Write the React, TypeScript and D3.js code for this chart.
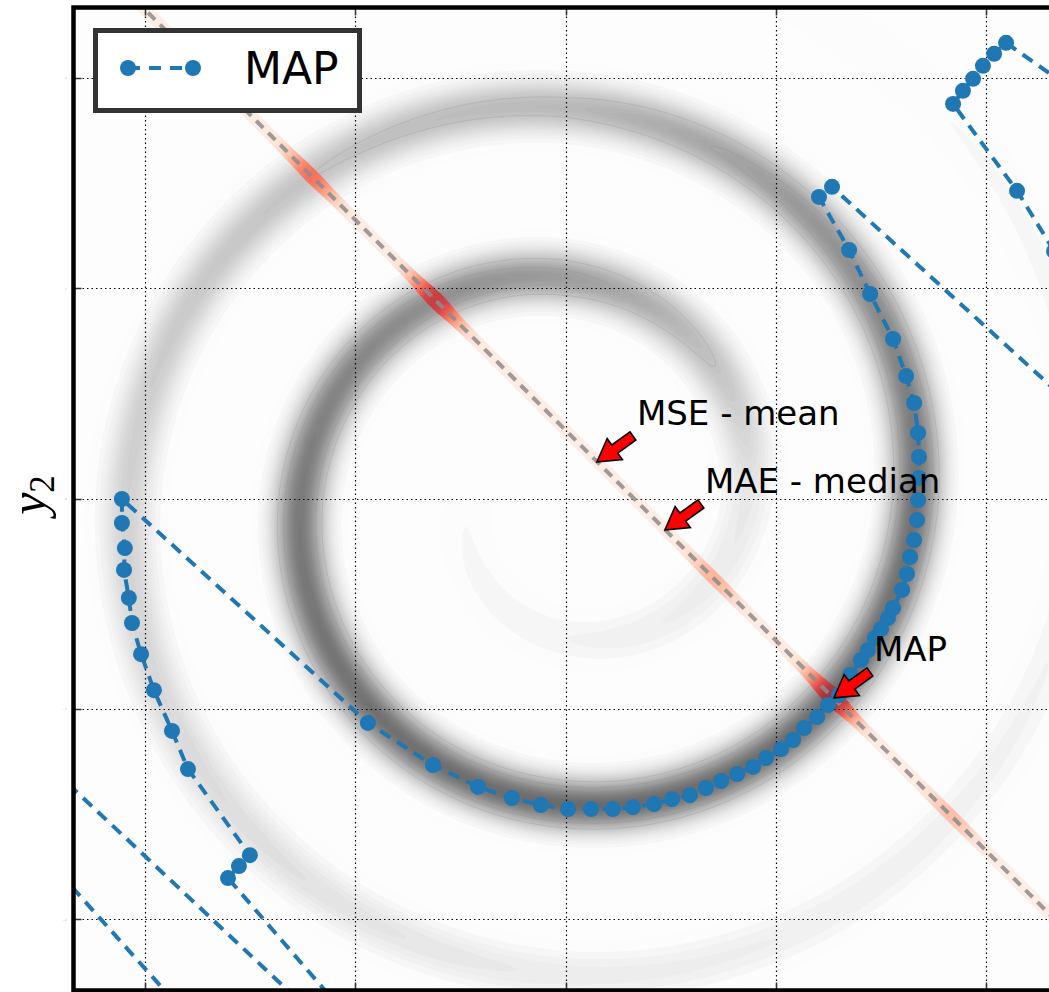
import React, { useMemo } from 'react';
import * as d3 from 'd3';

const WIDTH = 1049;
const HEIGHT = 992;
const frame = { left: 73.5, top: 7.5, width: 985, height: 983 };

const ticks = [-2, -1, 0, 1, 2];
const tickLabels = ['−2', '−1', '0', '1', '2'];
const xDomain = [-2.34, 2.34];
const yDomain = [-2.335, 2.335];

// spiral ridge: angle (rad, ccw from +x), radius, darkness
const ridgeAngle = [-9.42, -7.85, -6.28, -4.71, -3.14, -1.57, 0, 1.57, 3.14, 4.71, 6.28, 7.85];
const ridgeRadius = [0.46, 0.66, 0.86, 1.05, 1.26, 1.45, 1.66, 1.86, 2.08, 2.26, 2.46, 2.66];
const ridgeWeight = [0.03, 0.06, 0.12, 0.62, 0.88, 1.0, 0.95, 0.42, 0.26, 0.1, 0.05, 0.02];
const ridgeWidth = 0.078;

// observation line  y1 + y2 = c
const lineOffset = 0.325;

// MAP estimates, in order (first / last few sit outside the axes)
const mapX = [
  -1.739, -2.547, -2.547, -1.121, -0.974,
  -1.606, -1.554, -1.502, -1.796, -1.872, -1.958, -2.019, -2.062, -2.077, -2.1, -2.096, -2.11, -2.11,
  -0.941, -0.632, -0.418, -0.257, -0.119, 0.01, 0.119, 0.223, 0.318, 0.418, 0.504, 0.589, 0.665,
  0.737, 0.813, 0.889, 0.95, 1.022, 1.079, 1.131, 1.193, 1.245, 1.297,
  1.35, 1.402, 1.435, 1.468, 1.497, 1.53, 1.554, 1.597, 1.62, 1.635, 1.654, 1.668, 1.673, 1.677,
  1.677, 1.673, 1.654, 1.616, 1.554, 1.445, 1.345, 1.202, 1.264,
  2.585, 2.319, 2.143, 1.839, 1.886, 1.934, 1.981, 2.034, 2.091, 2.585,
];
const mapY = [
  -2.523, -1.62, -1.183, -2.523, -2.533,
  -1.801, -1.744, -1.692, -1.283, -1.102, -0.908, -0.737, -0.589, -0.47, -0.337, -0.233, -0.114, 0,
  -1.064, -1.264, -1.368, -1.421, -1.454, -1.473, -1.473, -1.473, -1.464, -1.449, -1.426, -1.407, -1.373,
  -1.34, -1.307, -1.273, -1.231, -1.188, -1.145, -1.088, -1.036, -0.979, -0.931,
  -0.836, -0.765, -0.718, -0.66, -0.618, -0.565, -0.518, -0.432, -0.356, -0.276, -0.195, -0.1, -0.005, 0.1,
  0.2, 0.314, 0.456, 0.584, 0.76, 0.974, 1.183, 1.435, 1.483,
  0.28, 1.178, 1.464, 1.877, 1.939, 1.996, 2.058, 2.115, 2.167, 1.82,
];

const estimatorLabels = ['MSE - mean', 'MAE - median', 'MAP'];
const estimatorX = [0.147, 0.47, 1.273];
const estimatorY = [0.176, -0.147, -0.945];

const BLUE = '#1f77b4';

const x = d3.scaleLinear().domain(xDomain).range([frame.left, frame.left + frame.width]);
const y = d3.scaleLinear().domain(yDomain).range([frame.top + frame.height, frame.top]);
const snap = (v: number) => Math.round(v - 0.5) + 0.5;

const radiusAt = d3.scaleLinear().domain(ridgeAngle).range(ridgeRadius);
const weightAt = d3.scaleLinear().domain(ridgeAngle).range(ridgeWeight);
const thetaMin = ridgeAngle[0];
const thetaMax = ridgeAngle[ridgeAngle.length - 1];

function density(px: number, py: number) {
  const r = Math.hypot(px, py);
  const phi = Math.atan2(py, px);
  let s = 0;
  for (let k = -2; k <= 2; k++) {
    const th = phi + 2 * Math.PI * k;
    if (th < thetaMin || th > thetaMax) continue;
    const d = r - radiusAt(th);
    s += weightAt(th) * Math.exp((-d * d) / (2 * ridgeWidth * ridgeWidth));
  }
  return s;
}

const grey = (t: number) => {
  const g = Math.round(255 - 150 * Math.pow(Math.min(t, 1), 0.85));
  return `rgb(${g},${g},${g})`;
};
const red = (v: number) =>
  d3.interpolateRgb('#ffffff', d3.interpolateReds(0.07 + 0.88 * Math.pow(Math.min(v, 1), 0.55)))(0.82);

// fancy annotation arrow, tip at (tx, ty), tail towards (dx, dy)
function arrowPath(tx: number, ty: number, dx: number, dy: number) {
  const L = Math.hypot(dx, dy);
  const ux = dx / L, uy = dy / L;
  const nx = -uy, ny = ux;
  const hl = 22, hw = 13, sw = 5;
  const bx = tx + ux * hl, by = ty + uy * hl;
  const ex = tx + ux * L, ey = ty + uy * L;
  const pts = [
    [tx, ty],
    [bx + nx * hw, by + ny * hw],
    [bx + nx * sw, by + ny * sw],
    [ex + nx * sw, ey + ny * sw],
    [ex - nx * sw, ey - ny * sw],
    [bx - nx * sw, by - ny * sw],
    [bx - nx * hw, by - ny * hw],
  ];
  return 'M' + pts.map((p) => p.join(',')).join('L') + 'Z';
}

export default function App() {
  const { bands, lines } = useMemo(() => {
    const cell = 3;
    const nx = Math.ceil(frame.width / cell);
    const ny = Math.ceil(frame.height / cell);
    const values = new Float64Array(nx * ny);
    for (let j = 0; j < ny; j++) {
      const dy = y.invert(frame.top + (j + 0.5) * cell);
      for (let i = 0; i < nx; i++) {
        const dx = x.invert(frame.left + (i + 0.5) * cell);
        values[j * nx + i] = density(dx, dy);
      }
    }
    const path = d3.geoPath(d3.geoIdentity().scale(cell).translate([frame.left, frame.top]) as any);
    const levels = d3.range(0.01, 1.1, 0.025);
    const gen = d3.contours().size([nx, ny]);
    const arr = Array.from(values);
    const bands = gen.thresholds(levels)(arr).map((c) => ({
      d: path(c) || '',
      fill: grey(c.value),
    }));
    const lines = gen.thresholds([0.35, 0.55, 0.75])(arr).map((c) => path(c) || '');
    return { bands, lines };
  }, []);

  // red posterior band along the observation line
  const step = 0.008;
  const along = d3.range(-2.5, 2.5, step);
  const redSegs = along.map((t) => {
    const v = density(t, lineOffset - t);
    return {
      x1: x(t - step * 0.6), y1: y(lineOffset - t + step * 0.6),
      x2: x(t + step * 0.6), y2: y(lineOffset - t - step * 0.6),
      color: red(v), w: 12 + 6 * Math.min(v, 1),
    };
  });

  const mapLine = d3.line<number>().x((i) => x(mapX[i])).y((i) => y(mapY[i]))(d3.range(mapX.length)) || '';

  return (
    <svg width={WIDTH} height={HEIGHT} style={{ position: 'absolute', left: 0, top: 0, background: '#fff' }}
      fontFamily="DejaVu Sans, sans-serif">
      <defs>
        <clipPath id="plot">
          <rect x={frame.left} y={frame.top} width={frame.width} height={frame.height} />
        </clipPath>
      </defs>

      <g clipPath="url(#plot)">
        <rect x={frame.left} y={frame.top} width={frame.width} height={frame.height} fill="#fdfdfd" />
        {bands.map((b, i) => <path key={i} d={b.d} fill={b.fill} />)}
        {lines.map((d, i) => <path key={i} d={d} fill="none" stroke="#8a8a8a" strokeWidth={0.6} strokeOpacity={0.45} />)}

        {redSegs.map((s, i) => (
          <line key={i} x1={s.x1} y1={s.y1} x2={s.x2} y2={s.y2} stroke={s.color} strokeWidth={s.w} />
        ))}

        {/* grid */}
        {ticks.map((t) => (
          <g key={t}>
            <line x1={snap(x(t))} x2={snap(x(t))} y1={frame.top} y2={frame.top + frame.height}
              stroke="#000" strokeWidth={1.2} strokeDasharray="1.5,3" />
            <line y1={snap(y(t))} y2={snap(y(t))} x1={frame.left} x2={frame.left + frame.width}
              stroke="#000" strokeWidth={1.2} strokeDasharray="1.5,3" />
            <line x1={snap(x(t))} x2={snap(x(t))} y1={frame.top + frame.height} y2={frame.top + frame.height - 8} stroke="#333" strokeWidth={1.5} />
            <line x1={snap(x(t))} x2={snap(x(t))} y1={frame.top} y2={frame.top + 8} stroke="#333" strokeWidth={1.5} />
            <line y1={snap(y(t))} y2={snap(y(t))} x1={frame.left} x2={frame.left + 8} stroke="#333" strokeWidth={1.5} />
          </g>
        ))}

        <line x1={x(-2.5)} y1={y(lineOffset + 2.5)} x2={x(2.5)} y2={y(lineOffset - 2.5)}
          stroke="#8c8c8c" strokeOpacity={0.85} strokeWidth={4} strokeDasharray="10,7" />

        <path d={mapLine} fill="none" stroke={BLUE} strokeWidth={4} strokeDasharray="12,8" />
        {mapX.map((v, i) => (
          <circle key={i} cx={x(v)} cy={y(mapY[i])} r={8} fill={BLUE} />
        ))}
      </g>

      {/* annotations */}
      {estimatorLabels.map((label, i) => {
        const tx = x(estimatorX[i]);
        const ty = y(estimatorY[i]);
        return (
          <g key={label}>
            <path d={arrowPath(tx, ty, 36, -26)} fill="#ff0000" stroke="#000" strokeWidth={1.6} strokeLinejoin="miter" />
            <text x={tx + 40} y={ty - 37} fontSize={34} fill="#000">{label}</text>
          </g>
        );
      })}

      {/* legend */}
      <g>
        <rect x={95.5} y={30.5} width={264} height={80} fill="#fff" stroke="#333" strokeWidth={5} />
        <line x1={128} x2={193} y1={68} y2={68} stroke={BLUE} strokeWidth={4} strokeDasharray="12,9" />
        <circle cx={128} cy={68} r={8} fill={BLUE} />
        <circle cx={193} cy={68} r={8} fill={BLUE} />
        <text x={244} y={84} fontSize={44} fill="#000">MAP</text>
      </g>

      {/* tiny tick labels */}
      {ticks.map((t, i) => (
        <text key={t} x={67} y={y(t) + 1} fontSize={3} textAnchor="end" fill="#aaa">{tickLabels[i]}</text>
      ))}

      {/* y label */}
      <text transform={`translate(45,495) rotate(-90)`} textAnchor="middle" fontSize={50}
        fontFamily="Liberation Serif, DejaVu Serif, serif" fontStyle="italic">
        y<tspan fontSize={35} dy={9} fontStyle="normal">2</tspan>
      </text>

      <rect x={frame.left} y={frame.top} width={frame.width} height={frame.height} fill="none" stroke="#000" strokeWidth={4.5} />
    </svg>
  );
}
